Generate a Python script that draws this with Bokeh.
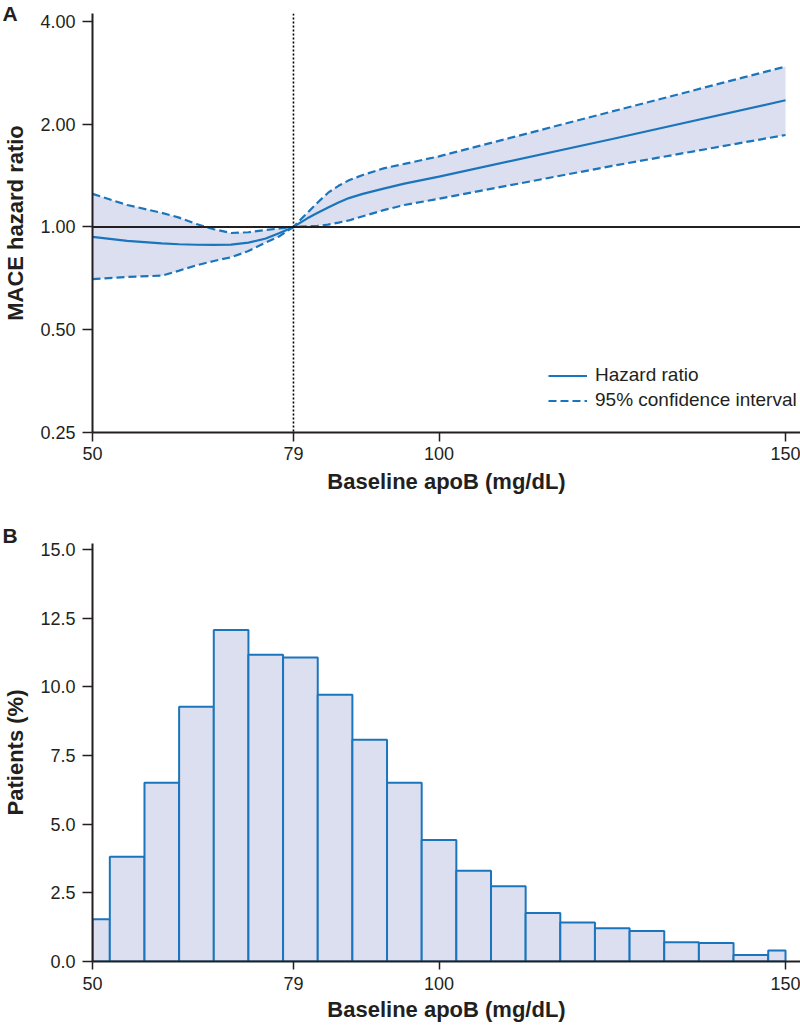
from bokeh.plotting import figure
from bokeh.models import Range1d, FixedTicker, PrintfTickFormatter, Span, Legend, LegendItem
from bokeh.layouts import column
from bokeh.embed import file_html
from bokeh.resources import INLINE

# ---------------- data ----------------
apob = [50, 55, 60, 62.5, 65, 67.5, 70, 72.5, 75, 77, 79,
        80, 81, 82.5, 84, 85.5, 87, 89, 92, 95, 100, 125, 150]
hazard_ratio = [0.935, 0.91, 0.895, 0.89, 0.887, 0.886, 0.888, 0.90, 0.925, 0.96, 1.0,
                1.03, 1.06, 1.10, 1.14, 1.18, 1.215, 1.25, 1.295, 1.34, 1.405, 1.81, 2.35]
ci_upper = [1.25, 1.16, 1.10, 1.065, 1.02, 0.985, 0.96, 0.965, 0.98, 0.99, 1.0,
            1.05, 1.10, 1.18, 1.26, 1.32, 1.37, 1.42, 1.485, 1.53, 1.61, 2.18, 2.95]
ci_lower = [0.703, 0.714, 0.72, 0.745, 0.772, 0.795, 0.815, 0.85, 0.90, 0.94, 1.0,
            1.002, 1.004, 1.008, 1.016, 1.03, 1.045, 1.075, 1.12, 1.16, 1.21, 1.51, 1.86]

x_ticks = [50, 79, 100, 150]
hr_ticks = [0.25, 0.5, 1, 2, 4]
reference_apob = 79

bin_edges = [50, 52.5, 57.5, 62.5, 67.5, 72.5, 77.5, 82.5, 87.5, 92.5, 97.5, 102.5,
             107.5, 112.5, 117.5, 122.5, 127.5, 132.5, 137.5, 142.5, 147.5, 150]
patients_pct = [1.54, 3.81, 6.51, 9.28, 12.07, 11.17, 11.07, 9.71, 8.07, 6.51, 4.42,
                3.30, 2.74, 1.77, 1.42, 1.21, 1.11, 0.70, 0.67, 0.24, 0.40]
pct_ticks = [0, 2.5, 5, 7.5, 10, 12.5, 15]

# ---------------- style ----------------
FONT = "Liberation Sans"
BLUE = "#1b75bc"
FILL = "#dcdff0"
INK = "#231f20"


def style_axes(p, xlabel, ylabel, tick_out, label_standoff, title_standoff):
    p.outline_line_color = None
    p.xgrid.grid_line_color = None
    p.ygrid.grid_line_color = None
    p.background_fill_color = "white"
    p.border_fill_color = "white"
    for ax in (p.xaxis[0], p.yaxis[0]):
        ax.axis_line_color = INK
        ax.axis_line_width = 2
        ax.major_tick_line_color = INK
        ax.major_tick_line_width = 1.5
        ax.major_tick_in = 0
        ax.minor_tick_line_color = None
        ax.major_label_text_font = FONT
        ax.major_label_text_font_size = "18px"
        ax.major_label_text_color = INK
        ax.axis_label_text_font = FONT
        ax.axis_label_text_font_size = "22px"
        ax.axis_label_text_font_style = "bold"
        ax.axis_label_text_color = INK
    p.xaxis.axis_label = xlabel
    p.yaxis.axis_label = ylabel
    p.xaxis.major_tick_out = tick_out
    p.xaxis.major_label_standoff = label_standoff
    p.xaxis.axis_label_standoff = title_standoff
    p.yaxis.major_tick_out = 10
    p.yaxis.major_label_standoff = 7
    p.yaxis.axis_label_standoff = 9
    p.xaxis.ticker = FixedTicker(ticks=x_ticks)


def panel_letter(p, letter, offset, standoff):
    p.title.text = letter
    p.title.align = "left"
    p.title.offset = offset
    p.title.standoff = standoff
    p.title.text_font = FONT
    p.title.text_font_size = "21px"
    p.title.text_font_style = "bold"
    p.title.text_color = INK


# ---------------- panel A ----------------
pA = figure(width=800, height=510, x_range=Range1d(50, 152.16), y_range=Range1d(0.25, 4.22),
            y_axis_type="log", output_backend="svg", toolbar_location=None,
            title_location="above",
            min_border_left=92, min_border_right=0, min_border_top=13, min_border_bottom=78)
style_axes(pA, "Baseline apoB (mg/dL)", "MACE hazard ratio", tick_out=9, label_standoff=5,
           title_standoff=6)
pA.yaxis.ticker = FixedTicker(ticks=hr_ticks)
pA.yaxis.formatter = PrintfTickFormatter(format="%.2f")
panel_letter(pA, "A", -90, -23)

pA.varea(x=apob, y1=ci_lower, y2=ci_upper, fill_color=FILL, fill_alpha=1)
r_up = pA.line(apob, ci_upper, line_color=BLUE, line_width=2.2, line_dash="8 4")
pA.line(apob, ci_lower, line_color=BLUE, line_width=2.2, line_dash="8 4")
r_hr = pA.line(apob, hazard_ratio, line_color=BLUE, line_width=2.2)

pA.add_layout(Span(location=1, dimension="width", line_color=INK, line_width=2))
pA.add_layout(Span(location=reference_apob, dimension="height", line_color="black",
                   line_width=1.6, line_dash="2 2"))

legend = Legend(items=[LegendItem(label="Hazard ratio", renderers=[r_hr]),
                       LegendItem(label="95% confidence interval", renderers=[r_up])],
                location=(456, 21), border_line_color=None, background_fill_alpha=0,
                padding=0, margin=0, spacing=3, glyph_width=39, glyph_height=19,
                label_height=19, label_standoff=8, label_text_font=FONT,
                label_text_font_size="19px", label_text_color=INK)
pA.add_layout(legend)

# ---------------- panel B ----------------
pB = figure(width=800, height=516, x_range=Range1d(50, 152.16), y_range=Range1d(0, 15.22),
            output_backend="svg", toolbar_location=None, title_location="above",
            min_border_left=92, min_border_right=0, min_border_top=33, min_border_bottom=65)
style_axes(pB, "Baseline apoB (mg/dL)", "Patients (%)", tick_out=8, label_standoff=7,
           title_standoff=4)
pB.yaxis.ticker = FixedTicker(ticks=pct_ticks)
pB.yaxis.formatter = PrintfTickFormatter(format="%.1f")
panel_letter(pB, "B", -90, -7)

pB.quad(left=bin_edges[:-1], right=bin_edges[1:], bottom=0, top=patients_pct,
        fill_color=FILL, line_color=BLUE, line_width=2)

layout = column(pA, pB, spacing=0)
open("out.html", "w").write(file_html(layout, INLINE))
